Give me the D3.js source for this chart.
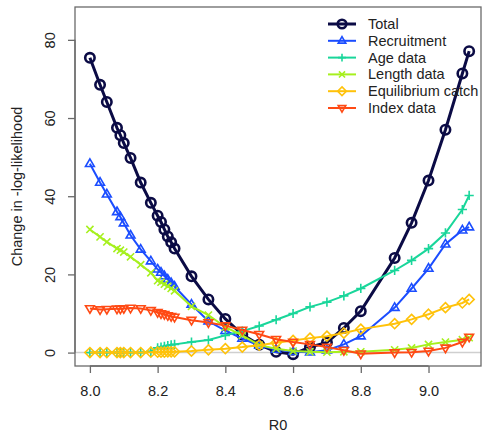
<!DOCTYPE html>
<html>
<head>
<meta charset="utf-8">
<script src="https://cdn.jsdelivr.net/npm/d3@7"></script>
<style>
  html, body { margin: 0; padding: 0; background: #fff; }
  svg { display: block; font-family: "Liberation Sans", Arial, sans-serif; }
</style>
</head>
<body>
<div id="chart"></div>
<script>
// --- Data ---
const r0 = [8.0, 8.03, 8.05, 8.08, 8.09, 8.10, 8.12, 8.15, 8.18, 8.20, 8.21, 8.22, 8.23, 8.24, 8.25,
  8.30, 8.35, 8.40, 8.45, 8.50, 8.55, 8.60, 8.65, 8.70, 8.75, 8.80, 8.90, 8.95, 9.00, 9.05, 9.10, 9.12];

const total = [75.4, 68.5, 64.1, 57.5, 55.6, 53.6, 49.8, 43.5, 38.3, 35.0, 33.4, 31.5, 29.7, 28.2, 26.6,
  19.5, 13.6, 8.6, 4.6, 2.0, 0.2, -0.4, 1.4, 2.6, 6.3, 10.6, 24.2, 33.2, 44.0, 57.0, 71.4, 77.1];
const recruitment = [48.3, 43.5, 40.5, 36.0, 34.7, 33.1, 30.0, 26.4, 23.4, 21.3, 20.5, 19.6, 18.7, 17.8, 16.9,
  12.3, 8.0, 5.6, 3.6, 1.8, 0.8, 0.2, 0.1, 0.6, 2.1, 4.2, 11.5, 16.4, 21.5, 27.7, 31.3, 32.1];
const ageData = [0, 0, 0, 0, 0, 0, 0, 0, 0.3, 1.2, 1.4, 1.6, 1.8, 2.0, 2.1,
  2.7, 3.2, 4.4, 5.5, 6.8, 8.4, 10.0, 11.7, 12.9, 14.5, 16.4, 21.0, 23.6, 26.6, 30.6, 36.6, 40.2];
const lengthData = [31.5, 29.6, 28.3, 26.6, 26.2, 25.7, 24.5, 22.5, 20.4, 18.4, 18.0, 17.5, 17.0, 16.4, 15.8,
  11.8, 9.6, 6.5, 4.4, 1.9, 1.0, 0.4, 0.2, 0.1, 0.2, 0.2, 0.7, 1.2, 2.1, 2.7, 3.3, 3.8];
const equilCatch = [0, 0, 0, 0, 0, 0, 0, 0, 0.1, 0.1, 0.1, 0.1, 0.2, 0.2, 0.2,
  0.4, 0.7, 1.0, 1.4, 1.9, 2.5, 3.1, 3.7, 4.2, 5.0, 6.0, 7.4, 8.5, 9.8, 11.5, 12.7, 13.6];
const indexData = [11.3, 11.0, 11.1, 11.2, 11.2, 11.3, 11.4, 11.3, 10.8, 10.3, 10.0, 9.8, 9.5, 9.3, 9.1,
  8.3, 7.7, 6.9, 5.8, 4.7, 3.4, 2.7, 2.1, 1.4, 0.6, -0.3, 0.0, 0.1, 0.4, 1.2, 2.7, 4.0];

const seriesNames = ["Total", "Recruitment", "Age data", "Length data", "Equilibrium catch", "Index data"];
const seriesValues = [total, recruitment, ageData, lengthData, equilCatch, indexData];
const seriesColors = ["#0b0b45", "#1b4dff", "#19d69a", "#a6f01e", "#ffc20a", "#ff4a14"];
const seriesShapes = ["circle", "triUp", "plus", "cross", "diamond", "triDown"];

const xTicks = [8.0, 8.2, 8.4, 8.6, 8.8, 9.0];
const yTicks = [0, 20, 40, 60, 80];

// --- Layout ---
const width = 483, height = 436;
const plot = { left: 75, right: 481, top: 7, bottom: 366 };

const svg = d3.select("#chart").append("svg")
  .attr("width", width).attr("height", height);

const x = d3.scaleLinear().domain([7.956, 9.155]).range([plot.left, plot.right]);
const y = d3.scaleLinear().domain([-3.43, 88.4]).range([plot.bottom, plot.top]);

// zero reference line
svg.append("line")
  .attr("x1", plot.left).attr("x2", plot.right)
  .attr("y1", y(0)).attr("y2", y(0))
  .attr("stroke", "#cfcfcf").attr("stroke-width", 1.5);

// --- Symbols ---
function symbolPath(shape, s) {
  switch (shape) {
    case "circle":
      return `M${-s},0A${s},${s} 0 1,0 ${s},0A${s},${s} 0 1,0 ${-s},0Z`;
    case "triUp":
      return `M0,${-s * 1.15}L${s * 1.05},${s * 0.65}L${-s * 1.05},${s * 0.65}Z`;
    case "triDown":
      return `M0,${s * 1.15}L${s * 1.05},${-s * 0.65}L${-s * 1.05},${-s * 0.65}Z`;
    case "plus":
      return `M${-s * 1.1},0L${s * 1.1},0M0,${-s * 1.1}L0,${s * 1.1}`;
    case "cross":
      return `M${-s * 0.85},${-s * 0.85}L${s * 0.85},${s * 0.85}M${-s * 0.85},${s * 0.85}L${s * 0.85},${-s * 0.85}`;
    case "diamond":
      return `M0,${-s * 1.2}L${s * 1.2},0L0,${s * 1.2}L${-s * 1.2},0Z`;
  }
}

const line = d3.line().x((d) => x(d[0])).y((d) => y(d[1]));

// --- Series (Total first, Index data drawn last / on top) ---
seriesValues.forEach((vals, i) => {
  const pts = r0.map((r, j) => [r, vals[j]]);
  const isTotal = i === 0;
  const g = svg.append("g").attr("class", "series");
  g.append("path")
    .datum(pts)
    .attr("d", line)
    .attr("fill", "none")
    .attr("stroke", seriesColors[i])
    .attr("stroke-width", isTotal ? 3 : 2);
  g.selectAll("path.pt")
    .data(pts)
    .join("path")
    .attr("class", "pt")
    .attr("transform", (d) => `translate(${x(d[0])},${y(d[1])})`)
    .attr("d", symbolPath(seriesShapes[i], isTotal ? 4.7 : 4.2))
    .attr("fill", "none")
    .attr("stroke", seriesColors[i])
    .attr("stroke-width", isTotal ? 2.6 : 1.6);
});

// --- Box and axes ---
svg.append("rect")
  .attr("x", plot.left).attr("y", plot.top)
  .attr("width", plot.right - plot.left).attr("height", plot.bottom - plot.top)
  .attr("fill", "none").attr("stroke", "#6a6a6a").attr("stroke-width", 1.3);

const axisColor = "#6a6a6a";
const xAxis = svg.append("g")
  .attr("transform", `translate(0,${plot.bottom})`)
  .call(d3.axisBottom(x).tickValues(xTicks).tickFormat(d3.format(".1f")).tickSize(7).tickPadding(13));
xAxis.select(".domain").attr("d", `M${x(8.0)},0H${x(9.0)}`).attr("stroke", axisColor).attr("stroke-width", 1.3);
xAxis.selectAll(".tick line").attr("stroke", axisColor).attr("stroke-width", 1.3);
xAxis.selectAll(".tick text").attr("fill", "#222").style("font-size", "14.5px");

const yAxis = svg.append("g")
  .attr("transform", `translate(${plot.left},0)`)
  .call(d3.axisLeft(y).tickValues(yTicks).tickSize(7).tickPadding(0));
yAxis.select(".domain").attr("d", `M0,${y(0)}V${y(80)}`).attr("stroke", axisColor).attr("stroke-width", 1.3);
yAxis.selectAll(".tick line").attr("stroke", axisColor).attr("stroke-width", 1.3);
yAxis.selectAll(".tick text")
  .attr("x", 0)
  .attr("text-anchor", "middle")
  .attr("transform", "translate(-25,0) rotate(-90)")
  .attr("dy", "0.35em")
  .attr("fill", "#222").style("font-size", "14.5px");

// axis titles
svg.append("text")
  .attr("x", (plot.left + plot.right) / 2).attr("y", 430)
  .attr("text-anchor", "middle")
  .attr("fill", "#222").style("font-size", "14.5px")
  .text("R0");

svg.append("text")
  .attr("transform", `translate(22,${(plot.top + plot.bottom) / 2}) rotate(-90)`)
  .attr("text-anchor", "middle")
  .attr("fill", "#222").style("font-size", "14.5px")
  .text("Change in -log-likelihood");

// --- Legend ---
const legend = svg.append("g").attr("transform", "translate(328,24)");
seriesNames.forEach((name, i) => {
  const row = legend.append("g").attr("transform", `translate(0,${i * 16.8})`);
  row.append("line")
    .attr("x1", 0).attr("x2", 28).attr("y1", 0).attr("y2", 0)
    .attr("stroke", seriesColors[i]).attr("stroke-width", i === 0 ? 3 : 2);
  row.append("path")
    .attr("transform", "translate(14,0)")
    .attr("d", symbolPath(seriesShapes[i], i === 0 ? 4.3 : 3.6))
    .attr("fill", "none")
    .attr("stroke", seriesColors[i])
    .attr("stroke-width", i === 0 ? 2.6 : 1.6);
  row.append("text")
    .attr("x", 40).attr("y", 0).attr("dy", "0.35em")
    .attr("fill", "#222").style("font-size", "14.5px")
    .text(name);
});
</script>
</body>
</html>
